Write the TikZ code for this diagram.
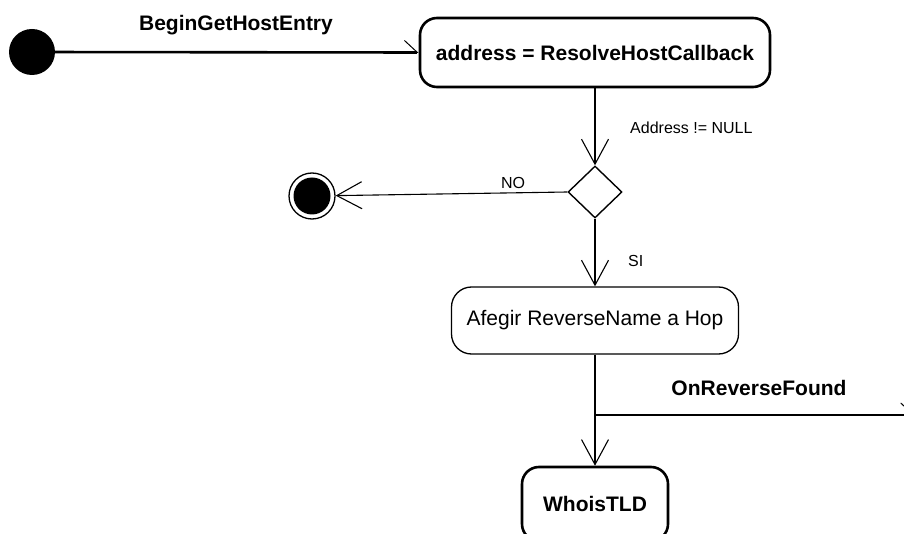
\documentclass[tikz,border=0pt]{standalone}
\usepackage{fontspec}
\setmainfont{Liberation Sans}
\usetikzlibrary{arrows.meta,shapes.geometric}
\begin{document}
\begin{tikzpicture}[x=1pt,y=-1pt,
  bigfont/.style={font=\fontsize{21}{25}\selectfont},
  smallfont/.style={font=\fontsize{16}{19}\selectfont},
  act/.style={draw, inner sep=0pt, align=center},
  boldact/.style={act, line width=2.6pt, rounded corners=17pt,
    font=\bfseries\fontsize{21}{25}\selectfont},
  plainact/.style={act, line width=1.3pt, rounded corners=20pt, bigfont},
  flow/.style={line width=1.1pt,
    -{Straight Barb[length=25pt,width=27pt,line width=1.1pt]}},
  trigger/.style={line width=2.6pt,
    -{Straight Barb[harpoon,length=13pt,width=24pt,line width=1pt]}},
  lbl/.style={inner sep=0pt},
]
\useasboundingbox (0,0) rectangle (904,534);

% initial and final nodes
\node[circle, fill=black, minimum size=46pt, inner sep=0pt] (start) at (32,52) {};
\node[circle, draw, line width=1.3pt, minimum size=46pt, inner sep=0pt,
  path picture={\fill (path picture bounding box.center) circle (18.5pt);}]
  (final) at (312,196) {};

% activities
\node[boldact, minimum width=350pt, minimum height=69pt] (resolve) at (595,52.5)
  {address = ResolveHostCallback};
\node[diamond, draw, line width=1.4pt, minimum width=54pt, minimum height=52pt,
  inner sep=0pt] (check) at (595,192) {};
\node[plainact, minimum width=287pt, minimum height=67pt] (afegir) at (595,320.5)
  {Afegir ReverseName a Hop};
\node[boldact, minimum width=146pt, minimum height=74pt] (whois) at (595,504)
  {WhoisTLD};

% connectors
\draw[trigger] (start) -- (resolve.west);
\draw[flow] (resolve.south) -- (check.north);
\draw[flow] (check.west) -- (final);
\draw[flow] (check.south) -- (afegir.north);
\draw[flow] (afegir.south) -- (whois.north);
\coordinate (branch) at (595,415);
\coordinate (away) at (915,415);
\draw[trigger] (branch) -- (away);

% labels
\node[lbl, font=\bfseries\fontsize{21}{25}\selectfont] (lbegin) at (236,25) {BeginGetHostEntry};
\node[lbl, smallfont, anchor=west] (lnull) at (630,128) {Address != NULL};
\node[lbl, smallfont] (lno) at (513,183) {NO};
\node[lbl, smallfont, anchor=west] (lsi) at (628,261) {SI};
\node[lbl, font=\bfseries\fontsize{21}{25}\selectfont] (lrev) at (759,388) {OnReverseFound};
\end{tikzpicture}
\end{document}
